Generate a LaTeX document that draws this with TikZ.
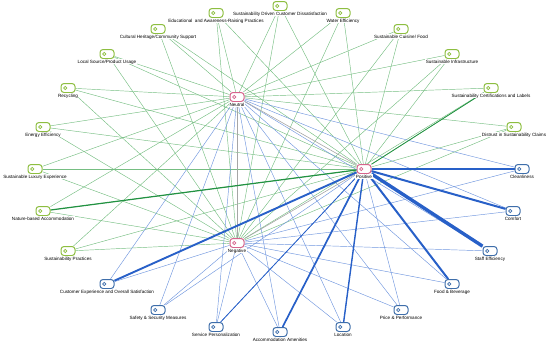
\documentclass[tikz,border=0pt]{standalone}
\usepackage{fontspec}
\setmainfont{Liberation Sans}
\usetikzlibrary{positioning, backgrounds}

\definecolor{iconGreen}{RGB}{141,190,64}
\definecolor{iconBlue}{RGB}{62,110,170}
\definecolor{iconPink}{RGB}{214,100,140}
\definecolor{edgeGreen}{RGB}{118,190,130}
\definecolor{edgeBlue}{RGB}{112,150,222}
\definecolor{strongBlue}{RGB}{40,96,200}
\definecolor{strongGreen}{RGB}{34,146,66}

\begin{document}
\begin{tikzpicture}[
        x=1pt, y=-1pt,
        % Base icon: rounded tag with a small ring on the left
        icon/.style={
            rectangle, draw=#1, line width=1pt, fill=white,
            rounded corners=3pt, minimum width=14pt, minimum height=9pt,
            inner sep=0pt, label distance=0pt,
            path picture={\draw[#1, line width=0.7pt]
                ([xshift=4.2pt]path picture bounding box.west) circle (1.6pt);}
        },
        greenAspect/.style={icon=iconGreen},
        blueAspect/.style={icon=iconBlue},
        sentiment/.style={icon=iconPink},
        every label/.style={font=\fontsize{4.6}{5}\selectfont, inner sep=0.5pt, fill=white},
        % Edge styles
        gEdge/.style={draw=edgeGreen, line width=0.45pt},
        bEdge/.style={draw=edgeBlue, line width=0.45pt},
        sEdge/.style={draw=gray!70, line width=0.6pt},
        strongB/.style={draw=strongBlue, line width=#1},
        strongG/.style={draw=strongGreen, line width=#1}
    ]

        \useasboundingbox (0,0) rectangle (550,346);

        % --- Nodes ---

        % 1. Sentiment nodes
        \node [sentiment, label=below:Neutral] (neutral) at (237,97) {};
        \node [sentiment, label=below:Positive] (positive) at (364,169) {};
        \node [sentiment, label=below:Negative] (negative) at (237,243) {};

        % 2. Sustainability aspects (green)
        \node [greenAspect, label=below:{Educational\ \ and Awareness-Raising Practices}] (edu) at (216,13) {};
        \node [greenAspect, label=below:{Sustainability Driven Customer Dissatisfaction}] (dissat) at (280,6) {};
        \node [greenAspect, label=below:{Water Efficiency}] (water) at (343,13) {};
        \node [greenAspect, label=below:{Sustainable Cuisine/ Food}] (cuisine) at (401,29) {};
        \node [greenAspect, label=below:{Sustainable Infrastructure}] (infra) at (452,54) {};
        \node [greenAspect, label=below:{Sustainability Certifications and Labels}] (certif) at (491,88) {};
        \node [greenAspect, label=below:{Distrust in Sustainability Claims}] (distrust) at (514,127) {};
        \node [greenAspect, label=below:{Cultural Heritage/Community Support}] (cultural) at (158,29) {};
        \node [greenAspect, label=below:{Local Source/Product Usage}] (local) at (107,54) {};
        \node [greenAspect, label=below:{Recycling}] (recycling) at (68,88) {};
        \node [greenAspect, label=below:{Energy Efficiency}] (energy) at (43,127) {};
        \node [greenAspect, label=below:{Sustainable Luxury Experience}] (luxury) at (35,169) {};
        \node [greenAspect, label=below:{Nature-based Accommodation}] (nature) at (43,211) {};
        \node [greenAspect, label=below:{Sustainability Practices}] (sustpract) at (68,251) {};

        % 3. Service aspects (blue)
        \node [blueAspect, label=below:{Cleanliness}] (clean) at (522,169) {};
        \node [blueAspect, label=below:{Comfort}] (comfort) at (513,211) {};
        \node [blueAspect, label=below:{Staff Efficiency}] (staff) at (490,251) {};
        \node [blueAspect, label=below:{Food \& Beverage}] (food) at (452,284) {};
        \node [blueAspect, label=below:{Price \& Performance}] (price) at (401,310) {};
        \node [blueAspect, label=below:{Location}] (location) at (343,327) {};
        \node [blueAspect, label=below:{Accommodation Amenities}] (amenities) at (280,332) {};
        \node [blueAspect, label=below:{Service Personalization}] (personal) at (216,327) {};
        \node [blueAspect, label=below:{Safety \& Security Measures}] (safety) at (158,310) {};
        \node [blueAspect, label=below:{Customer Experience and Overall Satisfaction}] (custexp) at (107,284) {};

        % --- Edges ---
        \begin{scope}[on background layer]
            % every aspect links to all three sentiments
            \foreach \a in {edu, dissat, water, cuisine, infra, certif, distrust,
                            cultural, local, recycling, energy, luxury, nature, sustpract}
                \foreach \s in {neutral, positive, negative}
                    \path [gEdge] (\a) -- (\s);
            \foreach \a in {clean, comfort, staff, food, price, location,
                            amenities, personal, safety, custexp}
                \foreach \s in {neutral, positive, negative}
                    \path [bEdge] (\a) -- (\s);

            % links between sentiments
            \path [sEdge] (neutral) -- (negative);
            \path [sEdge] (neutral) -- (positive);
            \path [sEdge] (negative) -- (positive);

            % heavier positive links
            \path [strongG=1.2pt] (nature) -- (positive);
            \path [strongG=0.8pt] (certif) -- (positive);
            \path [strongB=3.4pt] (staff) -- (positive);
            \path [strongB=2pt] (comfort) -- (positive);
            \path [strongB=2pt] (food) -- (positive);
            \path [strongB=1.9pt] (custexp) -- (positive);
            \path [strongB=1.7pt] (amenities) -- (positive);
            \path [strongB=1.4pt] (location) -- (positive);
            \path [strongB=1.1pt] (clean) -- (positive);
            \path [strongB=0.8pt] (personal) -- (positive);
        \end{scope}

    \end{tikzpicture}
\end{document}
